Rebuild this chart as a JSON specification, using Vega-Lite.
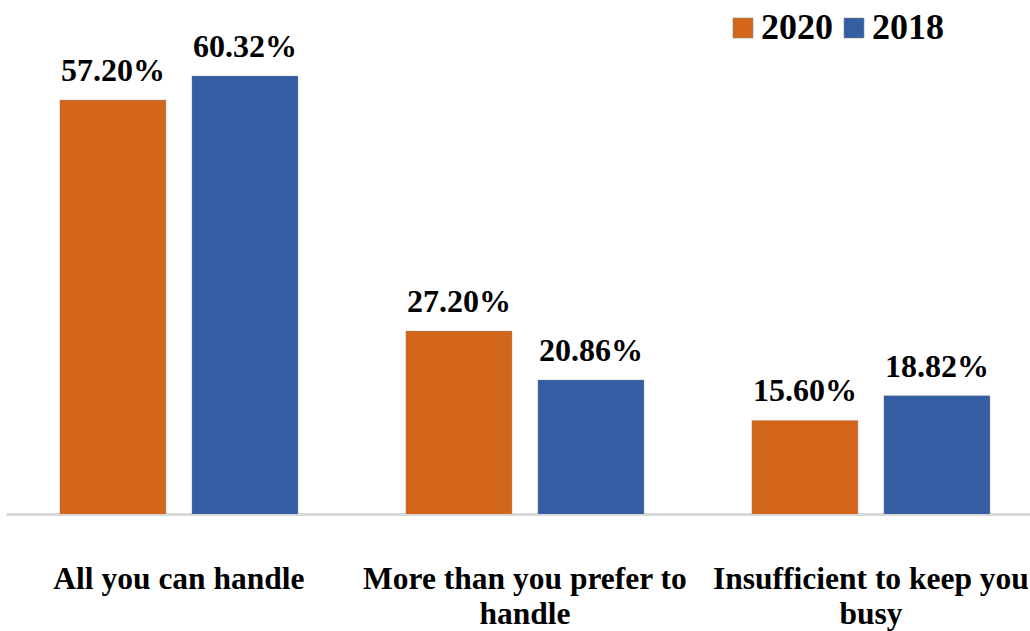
{
  "$schema": "https://vega.github.io/schema/vega-lite/v6.json",
  "autosize": "none",
  "width": 1024,
  "height": 504,
  "padding": {"left": 6, "top": 10, "right": 0, "bottom": 117},
  "background": "white",
  "config": {"view": {"stroke": null}, "font": "Liberation Serif"},
  "data": {
    "values": [
      {"category": "All you can handle", "year": "2020", "value": 57.20},
      {"category": "All you can handle", "year": "2018", "value": 60.32},
      {"category": "More than you prefer to handle", "year": "2020", "value": 27.20},
      {"category": "More than you prefer to handle", "year": "2018", "value": 20.86},
      {"category": "Insufficient to keep you busy", "year": "2020", "value": 15.60},
      {"category": "Insufficient to keep you busy", "year": "2018", "value": 18.82}
    ]
  },
  "encoding": {
    "x": {
      "field": "category",
      "type": "nominal",
      "sort": null,
      "scale": {"paddingInner": 0.312, "paddingOuter": 0.1358, "align": 0.574},
      "axis": {
        "title": null,
        "ticks": false,
        "labelAngle": 0,
        "labelFont": "Liberation Serif",
        "labelFontWeight": "bold",
        "labelFontSize": 31.5,
        "labelColor": "black",
        "labelLineHeight": 35,
        "labelPadding": 49,
        "labelLimit": 0,
        "labelExpr": "datum.label == 'More than you prefer to handle' ? ['More than you prefer to', 'handle'] : datum.label == 'Insufficient to keep you busy' ? ['Insufficient to keep you', 'busy'] : datum.label",
        "domainColor": "#d9d9d9",
        "domainWidth": 3,
        "grid": false
      }
    },
    "xOffset": {
      "field": "year",
      "type": "nominal",
      "sort": ["2020", "2018"],
      "scale": {"paddingInner": 0.197, "paddingOuter": 0}
    },
    "y": {
      "field": "value",
      "type": "quantitative",
      "scale": {"domain": [3.45, 68.9], "zero": false, "nice": false},
      "axis": null
    }
  },
  "layer": [
    {
      "mark": {"type": "bar", "clip": true, "stroke": "#8a8a8a", "strokeWidth": 0.6, "strokeOpacity": 0.6},
      "encoding": {
        "y2": {"datum": 0},
        "color": {
          "field": "year",
          "type": "nominal",
          "sort": ["2020", "2018"],
          "scale": {"domain": ["2020", "2018"], "range": ["#D4661B", "#345DA3"]},
          "legend": {
            "title": null,
            "orient": "none",
            "direction": "horizontal",
            "legendX": 719,
            "legendY": 0,
            "symbolType": "square",
            "symbolSize": 400,
            "symbolStrokeColor": "#8a8a8a",
            "symbolStrokeWidth": 0.6,
            "labelFont": "Liberation Serif",
            "labelFontWeight": "bold",
            "labelFontSize": 36,
            "labelColor": "black",
            "labelOffset": 0,
            "columnPadding": 3,
            "padding": 0
          }
        }
      }
    },
    {
      "mark": {
        "type": "text",
        "font": "Liberation Serif",
        "fontWeight": "bold",
        "fontSize": 32,
        "color": "black",
        "baseline": "alphabetic",
        "dy": -19,
        "text": {"expr": "format(datum.value, '.2f') + '%'"}
      },
      "encoding": {
        "color": {"value": "black"}
      }
    }
  ]
}
